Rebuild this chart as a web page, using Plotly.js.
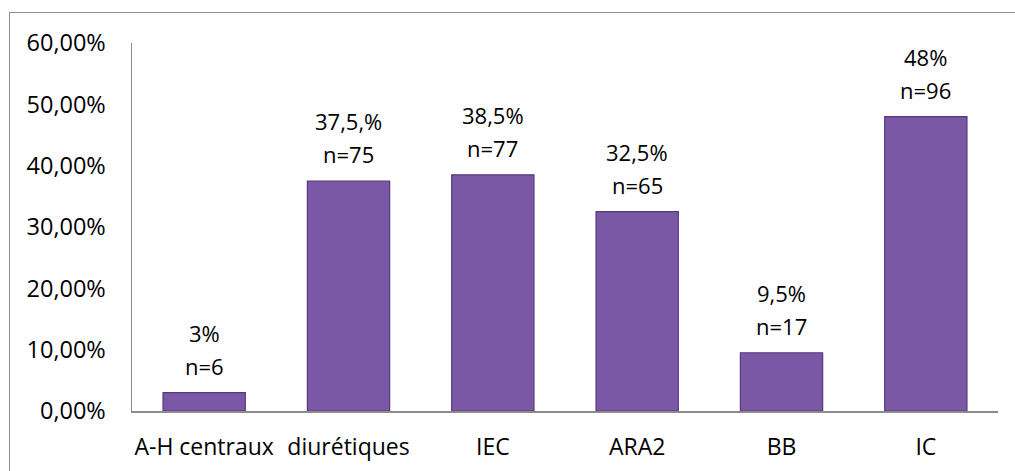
<!DOCTYPE html>
<html>
<head>
<meta charset="utf-8">
<script src="https://cdn.plot.ly/plotly-3.0.1.min.js"></script>
<style>
  html, body { margin: 0; padding: 0; background: #fff; overflow: hidden; }
  #chart { width: 1015px; height: 471px; }
  #frame { position: absolute; left: 9px; top: 12px; width: 1020px; height: 480px; border: 1.5px solid #8c8c8c; pointer-events: none; }
</style>
</head>
<body>
<div id="chart"></div>
<div id="frame"></div>
<script>
const categories = ["A-H centraux", "diurétiques", "IEC", "ARA2", "BB", "IC"];
const values = [3, 37.5, 38.5, 32.5, 9.5, 48];
const pctLabels = ["3%", "37,5,%", "38,5%", "32,5%", "9,5%", "48%"];
const counts = ["n=6", "n=75", "n=77", "n=65", "n=17", "n=96"];
const yTickVals = [0, 10, 20, 30, 40, 50, 60];
const yTickText = ["0,00%", "10,00%", "20,00%", "30,00%", "40,00%", "50,00%", "60,00%"];

const font = "'Open Sans', 'Liberation Sans', sans-serif";

const trace = {
  type: "bar",
  x: categories,
  y: values,
  marker: { color: "#7a58a6", line: { color: "#56397d", width: 1.2 } },
  hoverinfo: "skip"
};

const annFont = { family: font, size: 22, color: "#000" };
const annotations = [];
categories.forEach((c, i) => {
  annotations.push({
    x: c, y: values[i], xref: "x", yref: "y",
    text: counts[i], showarrow: false, yanchor: "bottom", yshift: 10,
    font: annFont, align: "center"
  });
  annotations.push({
    x: c, y: values[i], xref: "x", yref: "y",
    text: pctLabels[i], showarrow: false, yanchor: "bottom", yshift: 43,
    font: annFont, align: "center"
  });
});

const layout = {
  width: 1015, height: 471,
  margin: { l: 132, r: 17, t: 43, b: 60 },
  paper_bgcolor: "#fff", plot_bgcolor: "#fff",
  showlegend: false,
  bargap: 0.43,
  font: { family: font, size: 22, color: "#000" },
  xaxis: {
    type: "category",
    showline: true, linecolor: "#8c8c8c", linewidth: 1.5,
    ticks: "", ticklabelstandoff: 15,
    tickfont: { family: font, size: 23, color: "#000" },
    showgrid: false, zeroline: false, fixedrange: true
  },
  yaxis: {
    range: [0, 60],
    tickvals: yTickVals, ticktext: yTickText,
    showline: true, linecolor: "#8c8c8c", linewidth: 1.5,
    ticks: "", ticklabelstandoff: 20,
    tickfont: { family: font, size: 23.5, color: "#000" },
    showgrid: false, zeroline: false, fixedrange: true
  },
  annotations: annotations
};

Plotly.newPlot("chart", [trace], layout, { displayModeBar: false, staticPlot: true });
</script>
</body>
</html>
